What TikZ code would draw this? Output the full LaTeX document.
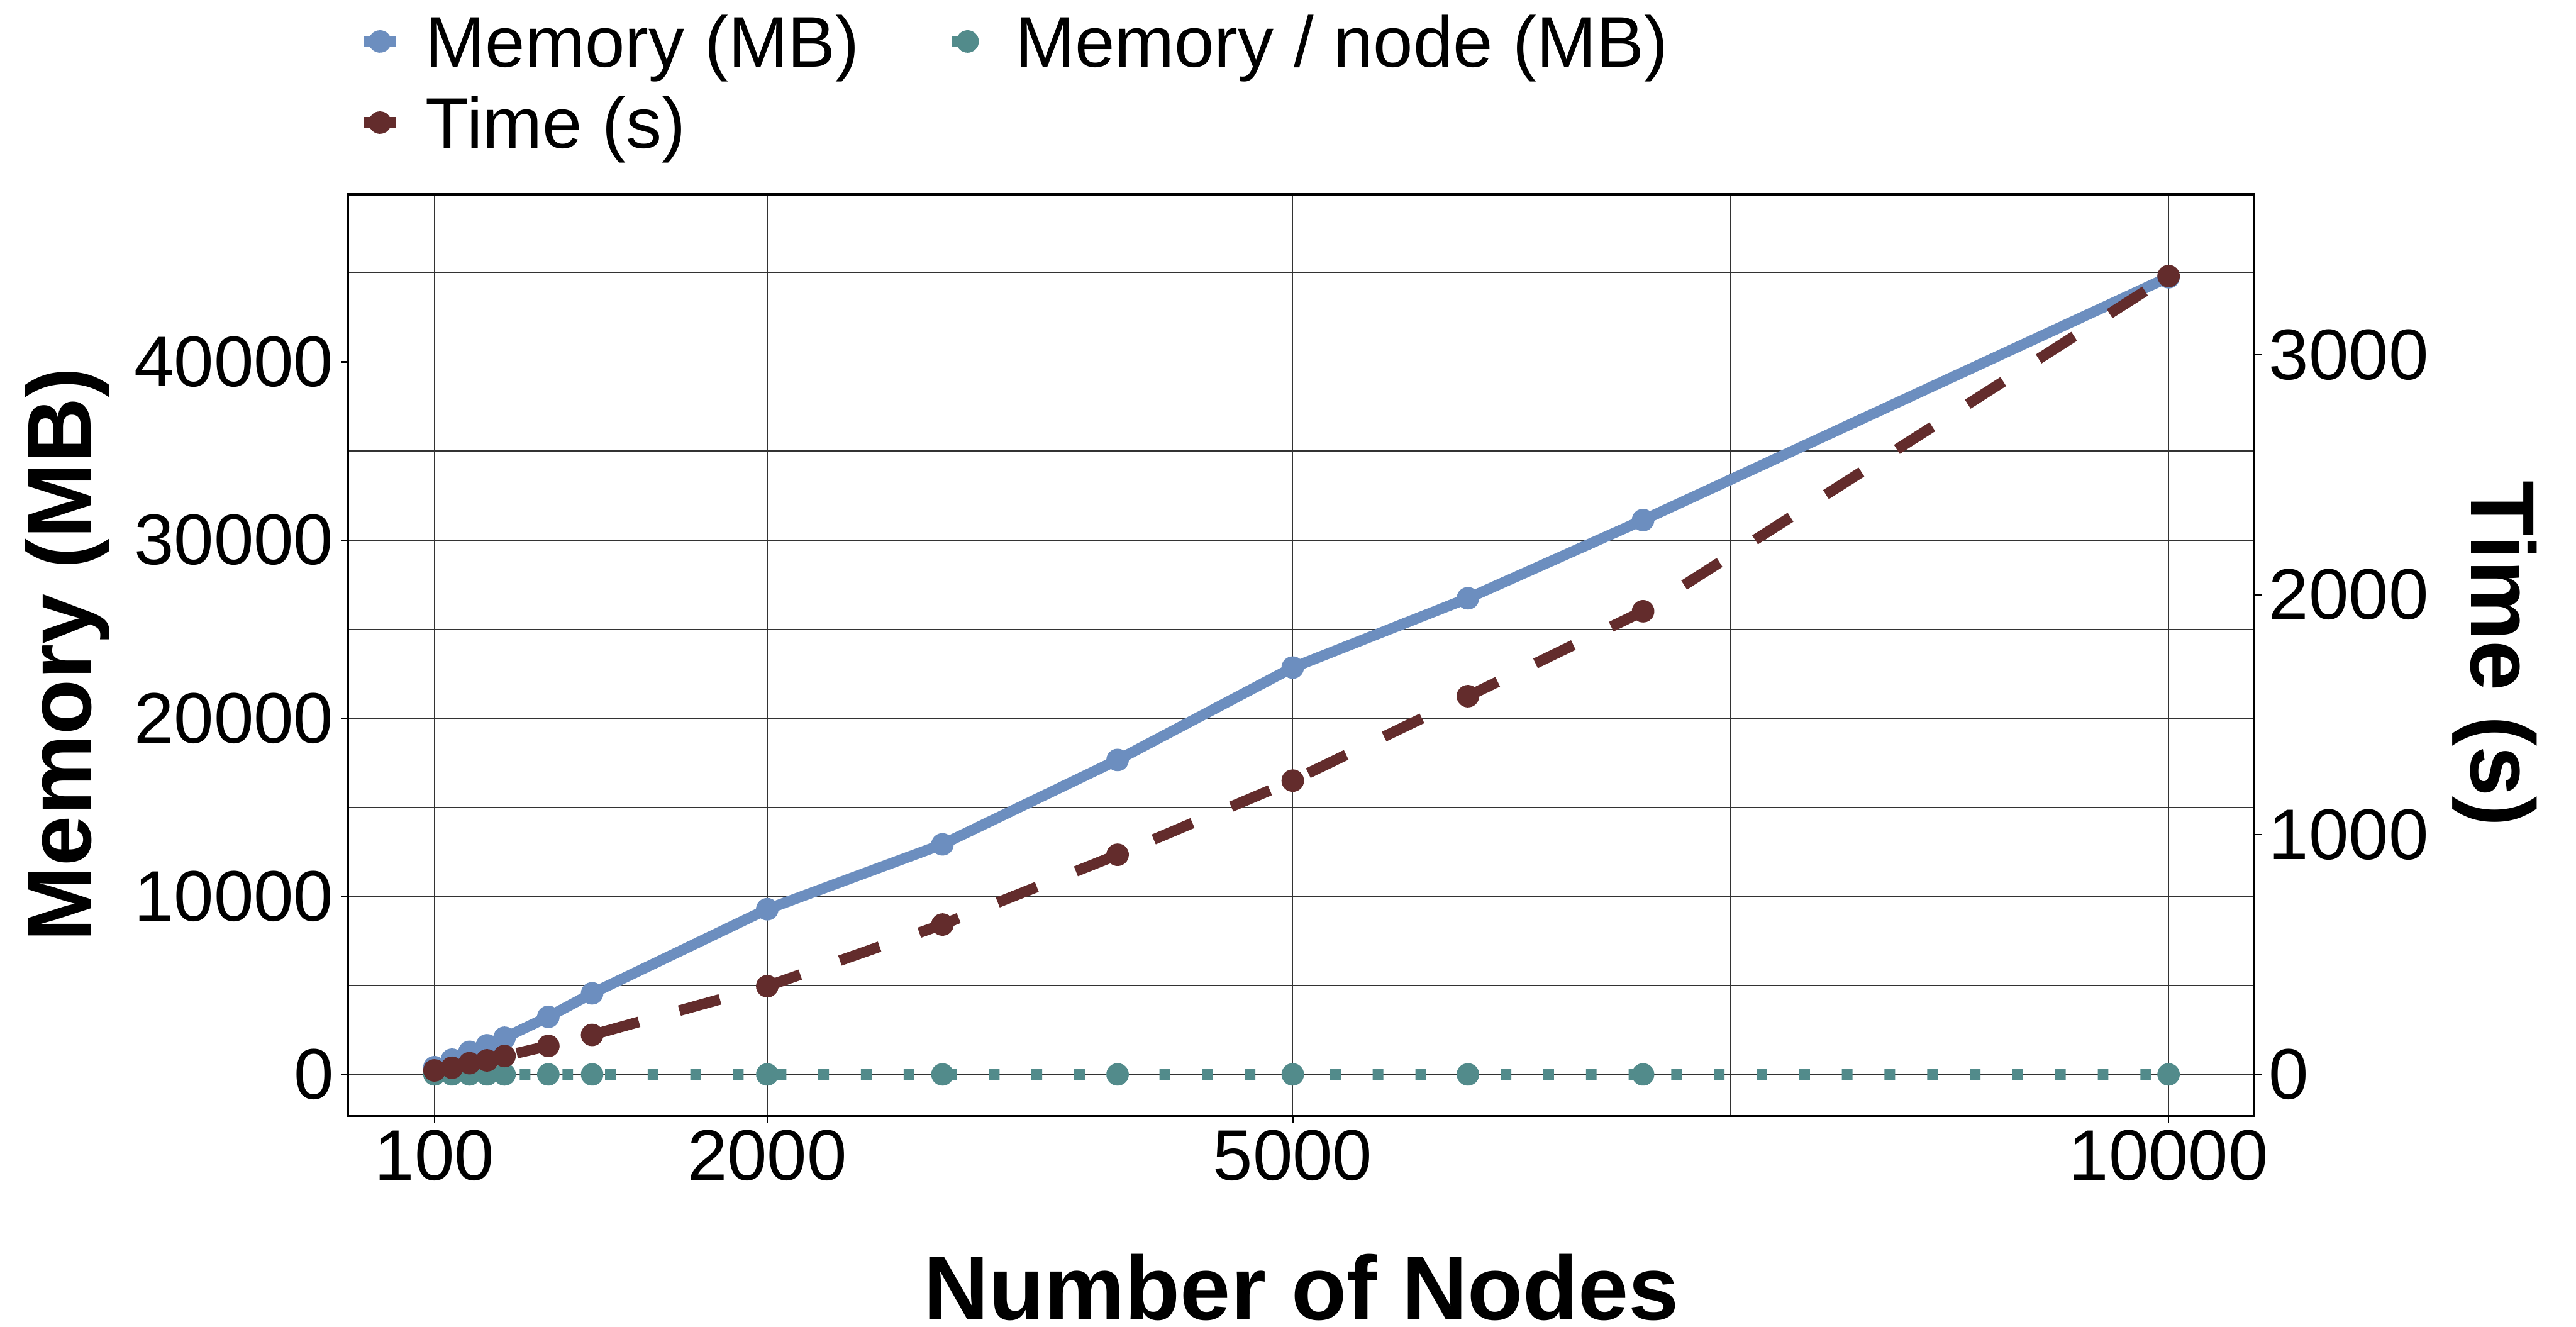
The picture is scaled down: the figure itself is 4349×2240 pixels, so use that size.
\documentclass[tikz,border=0pt]{standalone}
\usepackage{fontspec}
\setmainfont{Liberation Sans}
\definecolor{memblue}{HTML}{6C8EBF}
\definecolor{timebrown}{HTML}{632C2C}
\definecolor{nodeteal}{HTML}{528B8B}
\begin{document}
\begin{tikzpicture}[x=0.25pt,y=-0.25pt,
  ticklabel/.style={font=\fontsize{30.25}{36}\selectfont, inner sep=0pt},
  legendlabel/.style={font=\fontsize{30.25}{36}\selectfont, inner sep=0pt, anchor=base west},
  axistitle/.style={font=\fontsize{38.25}{46}\selectfont\bfseries, inner sep=0pt, anchor=base},
  series/.style={line width=4.5pt, line join=round, line cap=butt},
  memline/.style={series, draw=memblue},
  timeline/.style={series, draw=timebrown, dash pattern=on 17.75pt off 17.75pt},
  nodeline/.style={series, draw=nodeteal, dash pattern=on 4.5pt off 13.5pt},
  majorgrid/.style={line width=0.45pt, draw=black!80},
  minorgrid/.style={line width=0.32pt, draw=black!80},
  tickmark/.style={line width=0.6pt, draw=black},
  dot/.style={radius=4.75pt}]

% canvas
\fill[white] (0,0) rectangle (4349,2240);
\useasboundingbox (0,0) rectangle (4349,2240);

% panel corners
\coordinate (pnw) at (588,328);
\coordinate (pse) at (3806,1884);

% horizontal grid (memory axis, in thousands of MB)
\foreach \v in {5,15,25,35,45}
  \draw[minorgrid] (588,{1814-\v*30.075}) -- (3806,{1814-\v*30.075});
\foreach \v in {0,10,20,30,40}
  \draw[majorgrid] (588,{1814-\v*30.075}) -- (3806,{1814-\v*30.075});
% vertical grid (number of nodes)
\foreach \n in {1050,3500,7500}
  \draw[minorgrid] ({733.5+(\n-100)*0.29571},328) -- ({733.5+(\n-100)*0.29571},1884);
\foreach \n in {100,2000,5000,10000}
  \draw[majorgrid] ({733.5+(\n-100)*0.29571},328) -- ({733.5+(\n-100)*0.29571},1884);

% data: nodes / memory (thousands of MB) / time (s)
\foreach \n/\m/\t [count=\i] in {100/0.409/17, 200/0.831/28, 300/1.273/47, 400/1.639/59,
    500/2.062/77, 750/3.235/119, 1000/4.555/165, 2000/9.277/368, 3000/12.918/625,
    4000/17.656/916, 5000/22.843/1225, 6000/26.733/1577, 7000/31.122/1931,
    10000/44.755/3328} {
  \coordinate (m\i) at ({733.5+(\n-100)*0.29571},{1814-\m*30.075});
  \coordinate (t\i) at ({733.5+(\n-100)*0.29571},{1814-\t*0.405});
  \coordinate (p\i) at ({733.5+(\n-100)*0.29571},{1814-(\m/\n)*30.075});
}

% memory per node
\draw[nodeline] (p1) \foreach \i in {2,...,14}{ -- (p\i)};
\foreach \i in {1,...,14} \fill[nodeteal] (p\i) circle[dot];
% memory
\draw[memline] (m1) \foreach \i in {2,...,14}{ -- (m\i)};
\foreach \i in {1,...,14} \fill[memblue] (m\i) circle[dot];
% time
\draw[timeline] (t1) \foreach \i in {2,...,14}{ -- (t\i)};
\foreach \i in {1,...,14} \fill[timebrown] (t\i) circle[dot];

% panel border
\draw[line width=0.9pt] (pnw) rectangle (pse);

% left axis: memory
\foreach \v/\l in {0/0,10/10000,20/20000,30/30000,40/40000} {
  \draw[tickmark] (577,{1814-\v*30.075}) -- (588,{1814-\v*30.075});
  \node[ticklabel, anchor=east] (lm\v) at (564,{1814-\v*30.075}) {\l};
}
% right axis: time
\foreach \v in {0,1000,2000,3000} {
  \draw[tickmark] (3806,{1814-\v*0.405}) -- (3818,{1814-\v*0.405});
  \node[ticklabel, anchor=west] (lt\v) at (3830,{1814-\v*0.405}) {\v};
}
% bottom axis: number of nodes
\foreach \n in {100,2000,5000,10000} {
  \draw[tickmark] ({733.5+(\n-100)*0.29571},1884) -- ({733.5+(\n-100)*0.29571},1896);
  \node[ticklabel, anchor=north] (ln\n) at ({733.5+(\n-100)*0.29571},1907) {\n};
}

% axis titles
\node[axistitle] (xtitle) at (2197,2228) {Number of Nodes};
\node[axistitle, rotate=90] (ytitle) at (153,1105) {Memory (MB)};
\node[axistitle, rotate=-90] (y2title) at (4172,1104) {Time (s)};

% legend
\coordinate (kmA) at (614,70);  \coordinate (kmB) at (669,70);
\coordinate (ktA) at (614,207); \coordinate (ktB) at (669,207);
\coordinate (kpA) at (1606,70); \coordinate (kpB) at (1661,70);
\draw[memline] (kmA) -- (kmB);
\fill[memblue] (641.5,70) circle[dot];
\draw[timeline] (ktA) -- (ktB);
\fill[timebrown] (641.5,207) circle[dot];
\draw[nodeline] (kpA) -- (kpB);
\fill[nodeteal] (1633.5,70) circle[dot];
\node[legendlabel] (legmem) at (718,113) {Memory (MB)};
\node[legendlabel] (legnode) at (1713,113) {Memory / node (MB)};
\node[legendlabel] (legtime) at (718,250) {Time (s)};
\end{tikzpicture}
\end{document}
